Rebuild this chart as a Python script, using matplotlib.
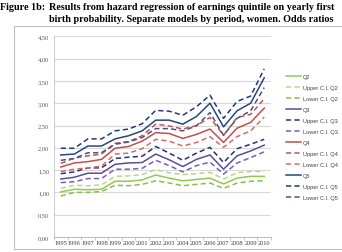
import matplotlib
matplotlib.use("Agg")
import matplotlib.pyplot as plt
from matplotlib.patches import Rectangle
from matplotlib.ticker import FixedLocator, FuncFormatter

years = [str(y) for y in range(1995, 2011)]

q2 = [1.01, 1.07, 1.06, 1.07, 1.25, 1.25, 1.28, 1.39, 1.32, 1.26, 1.29, 1.32, 1.19, 1.32, 1.36, 1.36]
q2_up = [1.09, 1.16, 1.15, 1.17, 1.36, 1.37, 1.40, 1.51, 1.44, 1.40, 1.42, 1.45, 1.30, 1.44, 1.47, 1.47]
q2_lo = [0.92, 1.00, 1.00, 1.02, 1.16, 1.15, 1.18, 1.26, 1.21, 1.15, 1.18, 1.21, 1.09, 1.21, 1.25, 1.26]

q3 = [1.30, 1.34, 1.43, 1.43, 1.63, 1.66, 1.67, 1.86, 1.73, 1.58, 1.74, 1.84, 1.52, 1.82, 1.93, 2.06]
q3_up = [1.42, 1.46, 1.55, 1.55, 1.76, 1.79, 1.81, 2.03, 1.88, 1.72, 1.88, 2.01, 1.67, 1.98, 2.08, 2.19]
q3_lo = [1.22, 1.24, 1.31, 1.31, 1.52, 1.52, 1.54, 1.72, 1.60, 1.46, 1.60, 1.68, 1.41, 1.66, 1.78, 1.91]

q4 = [1.57, 1.66, 1.69, 1.74, 1.99, 2.03, 2.15, 2.34, 2.32, 2.21, 2.30, 2.42, 2.12, 2.44, 2.57, 2.89]
q4_up = [1.65, 1.77, 1.82, 1.86, 2.10, 2.14, 2.27, 2.53, 2.49, 2.42, 2.50, 2.68, 2.28, 2.68, 2.75, 3.10]
q4_lo = [1.47, 1.52, 1.55, 1.59, 1.86, 1.88, 1.98, 2.19, 2.15, 2.04, 2.12, 2.25, 2.01, 2.25, 2.38, 2.69]

q5 = [1.84, 1.86, 2.04, 2.04, 2.20, 2.27, 2.38, 2.62, 2.62, 2.53, 2.70, 3.00, 2.47, 2.83, 3.00, 3.57]
q5_up = [1.99, 1.99, 2.20, 2.20, 2.38, 2.42, 2.54, 2.84, 2.82, 2.73, 2.92, 3.18, 2.66, 3.04, 3.16, 3.77]
q5_lo = [1.72, 1.76, 1.89, 1.89, 2.08, 2.13, 2.23, 2.43, 2.43, 2.38, 2.49, 2.79, 2.28, 2.66, 2.83, 3.35]

series = [
    ("Q2", q2, "#8FCB4F", "-"),
    ("Upper C.I. Q2", q2_up, "#B5D98A", "--"),
    ("Lower C.I. Q2", q2_lo, "#86BF4C", "--"),
    ("Q3", q3, "#5B4E96", "-"),
    ("Upper C.I. Q3", q3_up, "#2E2B7C", "--"),
    ("Lower C.I. Q3", q3_lo, "#7B5CC0", "--"),
    ("Q4", q4, "#C0504D", "-"),
    ("Upper C.I. Q4", q4_up, "#C8524F", "--"),
    ("Lower C.I. Q4", q4_lo, "#D96A66", "--"),
    ("Q5", q5, "#24487C", "-"),
    ("Upper C.I. Q5", q5_up, "#1F3A80", "--"),
    ("Lower C.I. Q5", q5_lo, "#4A5578", "--"),
]

W, H = 342, 253
fig = plt.figure(figsize=(W / 100, H / 100), dpi=100)
fig.patch.set_facecolor("white")

# outer chart border
fig.patches.append(Rectangle((13.5 / W, 1 - 249.5 / H), 340 / W, (249.5 - 27) / H,
                             transform=fig.transFigure, fill=False,
                             edgecolor="#BFBFBF", linewidth=0.8))

# title
tfont = dict(family="Liberation Serif", weight="bold", size=7.3)
fig.text(0.5 / W, 1 - 8 / H, "Figure 1b:", va="center", ha="left", **tfont)
fig.text(49 / W, 1 - 8 / H, "Results from hazard regression of earnings quintile on yearly first",
         va="center", ha="left", **tfont)
fig.text(49 / W, 1 - 20 / H, "birth probability. Separate models by period, women. Odds ratios",
         va="center", ha="left", **tfont)

ax = fig.add_axes([54 / W, 1 - 238 / H, (271 - 54) / W, (238 - 37.3) / H])
x = list(range(len(years)))
handles = []
for label, vals, color, ls in series:
    if ls == "-":
        (h,) = ax.plot(x, vals, color=color, lw=1.1, label=label, solid_joinstyle="round")
    else:
        (h,) = ax.plot(x, vals, color=color, lw=1.1, label=label, dashes=(3.4, 2.1))
    handles.append(h)

ax.set_xlim(-0.5, len(years) - 0.5)
ax.set_ylim(0, 4.5)
ax.set_yticks([i * 0.5 for i in range(10)])
ax.yaxis.set_major_formatter(FuncFormatter(lambda v, p: f"{v:.2f}".replace(".", ",")))
ax.grid(axis="y", color="#D9D9D9", lw=0.8)
ax.set_axisbelow(True)
ax.set_xticks(x)
ax.set_xticklabels(years)
ax.xaxis.set_minor_locator(FixedLocator([i - 0.5 for i in range(len(years) + 1)]))
ax.tick_params(axis="x", which="major", length=0, pad=2.3, labelsize=4.6, labelcolor="#404040")
ax.tick_params(axis="x", which="minor", length=2.5, width=0.6, color="#BFBFBF")
ax.tick_params(axis="y", length=0, pad=3.5, labelsize=4.6, labelcolor="#595959")
for lab in ax.get_xticklabels() + ax.get_yticklabels():
    lab.set_family("Liberation Serif")
for s in ["top", "right"]:
    ax.spines[s].set_visible(False)
ax.spines["left"].set_color("#D0D0D0")
ax.spines["bottom"].set_color("#BFBFBF")
ax.spines["left"].set_linewidth(0.8)
ax.spines["bottom"].set_linewidth(0.8)

leg = fig.legend(handles, [s[0] for s in series], loc="upper left",
                 bbox_to_anchor=(286 / W, 1 - 75 / H), frameon=False,
                 prop=dict(family="Liberation Sans", size=4.1),
                 handlelength=2.6, handletextpad=0.4, labelspacing=1.05,
                 borderpad=0, borderaxespad=0)
for t in leg.get_texts():
    t.set_color("#404040")

fig.savefig("out.png", dpi=100, facecolor="white")
